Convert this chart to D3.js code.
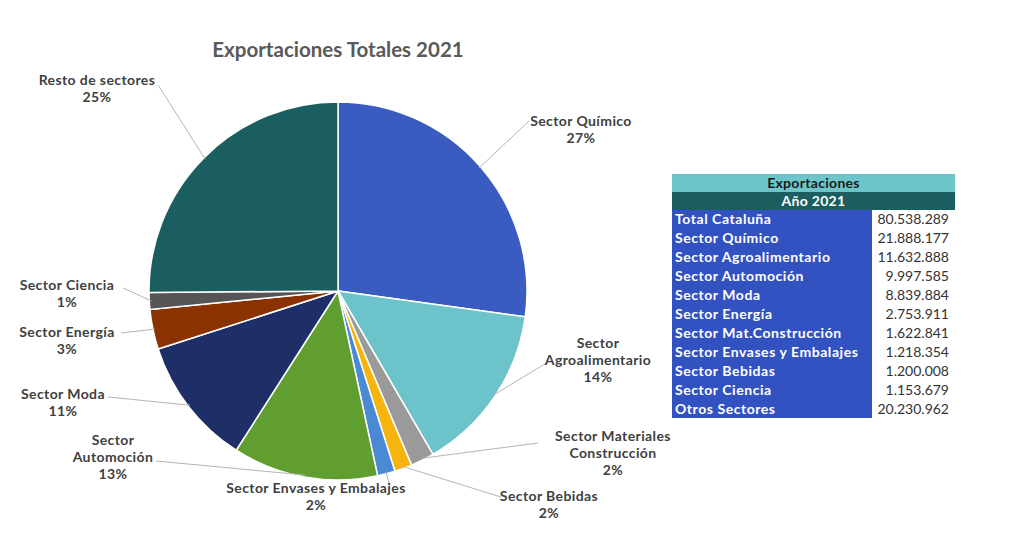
<!DOCTYPE html>
<html><head><meta charset="utf-8">
<script src="https://cdn.jsdelivr.net/npm/d3@7"></script>
<style>body{margin:0;background:#fff;}svg{display:block;font-family:Lato,"Open Sans",sans-serif;}</style>
</head><body><svg id="c" width="1024" height="556"></svg>
<script>
// ---- data ----
const sectors = ["Sector Químico","Sector Agroalimentario","Sector Materiales Construcción","Sector Bebidas","Sector Envases y Embalajes","Sector Automoción","Sector Moda","Sector Energía","Sector Ciencia","Resto de sectores"];
const values = [21888177,11632888,1622841,1200008,1218354,9997585,8839884,2753911,1153679,20230962];
const pctLabels = ["27%","14%","2%","2%","2%","13%","11%","3%","1%","25%"];
const colors = ["#3a5bbf","#6cc3c9","#9a9a9a","#f6b40e","#4a8ad4","#5f9e2f","#1d2f66","#8a3300","#555555","#1b5e5f"];
const tableLabels = ["Total Cataluña","Sector Químico","Sector Agroalimentario","Sector Automoción","Sector Moda","Sector Energía","Sector Mat.Construcción","Sector Envases y Embalajes","Sector Bebidas","Sector Ciencia","Otros Sectores"];
const tableValues = ["80.538.289","21.888.177","11.632.888","9.997.585","8.839.884","2.753.911","1.622.841","1.218.354","1.200.008","1.153.679","20.230.962"];

// ---- layout ----
const svg = d3.select("#c");
const cx = 338, cy = 291, R = 189;
const labelLayout = [
  {lines:["Sector Químico"], x:581, y:121, lx:529, ly:121},
  {lines:["Sector","Agroalimentario"], x:598, y:343, lx:548, ly:362},
  {lines:["Sector Materiales","Construcción"], x:613, y:436, lx:538, ly:443},
  {lines:["Sector Bebidas"], x:549, y:496, lx:501, ly:497},
  {lines:["Sector Envases y Embalajes"], x:316, y:488, lx:390, ly:486},
  {lines:["Sector","Automoción"], x:113, y:440, lx:156, ly:461},
  {lines:["Sector Moda"], x:63, y:394, lx:108, ly:397},
  {lines:["Sector Energía"], x:67, y:332, lx:121, ly:333},
  {lines:["Sector Ciencia"], x:67, y:285, lx:123, ly:288},
  {lines:["Resto de sectores"], x:97, y:80, lx:158, ly:85}
];

svg.append("text").attr("x",338).attr("y",57).attr("text-anchor","middle")
  .attr("font-size",20.5).attr("font-weight","bold").attr("fill","#595959")
  .text("Exportaciones Totales 2021");

const pie = d3.pie().sort(null).value(d=>d)(values);
const arc = d3.arc().innerRadius(0).outerRadius(R);
const edgeArc = d3.arc().innerRadius(R-2).outerRadius(R-2);
const g = svg.append("g").attr("transform",`translate(${cx},${cy})`);
g.selectAll("path").data(pie).join("path")
  .attr("d",arc).attr("fill",(d,i)=>colors[i])
  .attr("stroke","#fff").attr("stroke-width",1.5);

const lg = svg.append("g");
pie.forEach((d,i)=>{
  const L = labelLayout[i];
  const c = edgeArc.centroid(d);
  lg.append("line").attr("x1",L.lx).attr("y1",L.ly).attr("x2",cx+c[0]).attr("y2",cy+c[1])
    .attr("stroke","#b5b5b5").attr("stroke-width",1);
  const t = svg.append("text").attr("text-anchor","middle").attr("font-size",14)
    .attr("font-weight","bold").attr("fill","#404040").attr("letter-spacing",0.4);
  const lines = L.lines.concat([pctLabels[i]]);
  lines.forEach((s,k)=>{
    t.append("tspan").attr("x",L.x).attr("y",L.y+5+k*17).text(s);
  });
});

// table
const tx0 = 672, tx1 = 955, tmid = 872, ty0 = 174, hh = 18, tyEnd = 418;
svg.append("rect").attr("x",tx0).attr("y",ty0).attr("width",tx1-tx0).attr("height",hh).attr("fill","#6cc5c9");
svg.append("text").attr("x",(tx0+tx1)/2).attr("y",ty0+14).attr("text-anchor","middle")
  .attr("font-size",14).attr("font-weight","bold").attr("fill","#1a1a1a").attr("letter-spacing",0.3).text("Exportaciones");
svg.append("rect").attr("x",tx0).attr("y",ty0+hh).attr("width",tx1-tx0).attr("height",hh).attr("fill","#1b5e5f");
svg.append("text").attr("x",(tx0+tx1)/2).attr("y",ty0+hh+14).attr("text-anchor","middle")
  .attr("font-size",14).attr("font-weight","bold").attr("fill","#fff").attr("letter-spacing",0.3).text("Año 2021");
const rowsY = d3.scaleBand().domain(d3.range(tableLabels.length)).range([ty0+2*hh, tyEnd]);
svg.append("rect").attr("x",tx0).attr("y",ty0+2*hh).attr("width",tmid-tx0).attr("height",tyEnd-(ty0+2*hh)).attr("fill","#3352c2");
const rows = svg.append("g").selectAll("g").data(tableLabels).join("g");
rows.append("text").attr("x",tx0+3).attr("y",(d,i)=>rowsY(i)+rowsY.bandwidth()/2+5)
  .attr("font-size",14).attr("font-weight","bold").attr("fill","#fff").attr("letter-spacing",0.55).text(d=>d);
rows.append("text").attr("x",949).attr("y",(d,i)=>rowsY(i)+rowsY.bandwidth()/2+5)
  .attr("text-anchor","end").attr("font-size",14).attr("fill","#333").text((d,i)=>tableValues[i]);
</script></body></html>
